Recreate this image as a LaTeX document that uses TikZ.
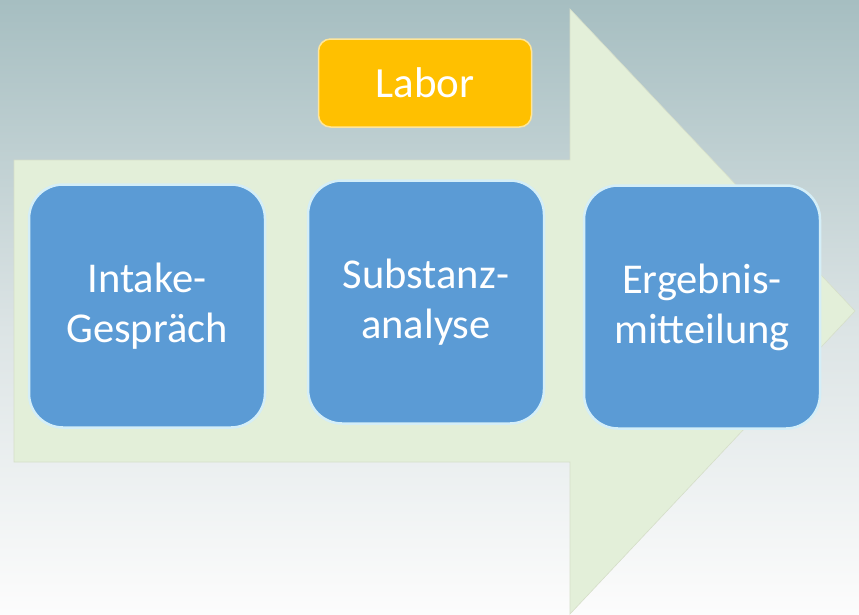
\documentclass[tikz,border=0pt]{standalone}
\usepackage{fontspec}
\setmainfont{Carlito}
\definecolor{bgtop}{HTML}{A6BEC1}
\definecolor{bgmid}{HTML}{DCE4E5}
\definecolor{bgbot}{HTML}{FCFCFC}
\definecolor{arrowfill}{HTML}{E3EFD9}
\definecolor{arrowedge}{HTML}{D6DEC9}
\definecolor{stepblue}{HTML}{5B9BD5}
\definecolor{stepedge}{HTML}{D4EEF8}
\definecolor{labfill}{HTML}{FFC000}
\definecolor{labedge}{HTML}{FFE699}
\begin{document}
\begin{tikzpicture}[x=1pt,y=-1pt,
  stepbox/.style={draw=stepedge, line width=2.5pt, fill=stepblue,
    rounded corners=34pt, minimum width=236pt, minimum height=243pt,
    inner sep=0pt, text=white, align=center,
    font=\fontsize{42.5}{50}\selectfont},
  labbox/.style={draw=labedge, line width=1.5pt, fill=labfill,
    rounded corners=12pt, minimum width=213pt, minimum height=88pt,
    inner sep=0pt, text=white, font=\fontsize{43}{50}\selectfont}]
  % background
  \useasboundingbox (0,0) rectangle (859,614);
  \shade[top color=bgtop, bottom color=bgmid] (0,0) rectangle (859,330);
  \shade[top color=bgmid, bottom color=bgbot] (0,330) rectangle (859,614);
  % process arrow
  \fill[arrowfill, draw=arrowedge, line width=0.6pt]
    (14,160) -- (570,160) -- (570,9) -- (855,311) -- (570,614)
    -- (570,462) -- (14,462) -- cycle;
  % steps
  \node[stepbox] (intake) at (147,306) {Intake-\\Gespräch};
  \node[stepbox] (analyse) at (426,302) {Substanz-\\analyse};
  \node[stepbox] (ergebnis) at (702,307) {Ergebnis-\\mitteilung};
  \node[labbox] (labor) at (425,83) {Labor};
\end{tikzpicture}
\end{document}
